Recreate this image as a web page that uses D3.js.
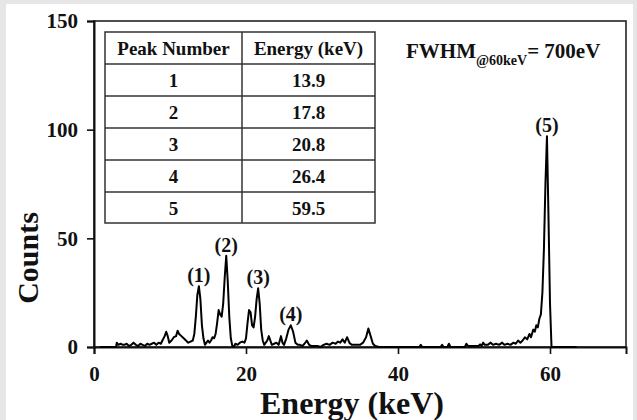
<!DOCTYPE html>
<html>
<head>
<meta charset="utf-8">
<script src="https://cdn.jsdelivr.net/npm/d3@7/dist/d3.min.js"></script>
<style>
  html, body { margin: 0; padding: 0; background: #e6e6e6; }
  svg { display: block; }
  svg text { font-family: "Liberation Serif", "Times New Roman", serif !important; font-weight: bold; fill: #111; }
</style>
</head>
<body>
<svg id="chart" width="637" height="420"></svg>
<script>
// ---- Data ----
const energy = [0.8, 1.5, 2.5, 2.9, 3.0, 3.2, 3.5, 3.8, 4.0, 4.3, 4.6, 4.9, 5.2, 5.5, 5.8, 6.1, 6.4, 6.7, 7.0, 7.3, 7.6, 7.9, 8.2, 8.5, 8.8,
  9.0, 9.3, 9.5, 9.7, 9.9, 10.2, 10.5, 10.8, 11.0, 11.2, 11.5, 11.8, 12.1, 12.4, 12.7, 13.0, 13.2, 13.4, 13.6, 13.8, 14.0, 14.2, 14.4, 14.6, 14.8,
  15.0, 15.2, 15.4, 15.6, 15.8, 16.0, 16.2, 16.4, 16.6, 16.8, 17.0, 17.2, 17.4, 17.6, 17.8, 18.0, 18.2, 18.4, 18.6, 18.9, 19.2, 19.5, 19.8,
  20.0, 20.2, 20.4, 20.6, 20.8, 21.0, 21.2, 21.4, 21.6, 21.8, 22.0, 22.2, 22.4, 22.6, 22.8, 23.0, 23.2, 23.4, 23.7, 24.0, 24.3, 24.6, 24.8,
  25.0, 25.3, 25.6, 25.9, 26.2, 26.5, 26.8, 27.1, 27.4, 27.7, 28.0, 28.3, 28.6, 29.0, 29.4, 29.8, 30.2, 30.6, 31.0, 31.4, 31.8, 32.1, 32.4,
  32.7, 33.0, 33.3, 33.6, 33.9, 34.2, 34.6, 35.0, 35.4, 35.8, 36.1, 36.4, 36.7, 37.0, 37.5, 38.0, 42.8, 43.0, 43.2, 45.6, 45.8, 46.0, 46.5,
  46.7, 46.9, 48.8, 49.0, 49.2, 50.0, 50.6, 50.8, 51.0, 51.2, 51.4, 51.8, 52.2, 52.5, 52.9, 53.3, 53.7, 54.0, 54.4, 54.8, 55.2, 55.5, 55.8,
  56.1, 56.4, 56.7, 57.0, 57.3, 57.5, 57.8, 58.0, 58.2, 58.4, 58.6, 58.8, 59.0, 59.2, 59.4, 59.6, 59.8, 60.0, 60.2, 61.0, 63.5];
const counts = [0, 0, 0, 0, 2, 1, 1.5, 1, 1, 1.5, 0.5, 1, 2, 1, 0.5, 1.5, 1, 0.5, 1.5, 1, 1.5, 2, 1, 2, 1.5,
  3, 5, 7, 5, 2, 3, 4.5, 5, 7.5, 6, 5, 4, 3, 2, 2.5, 3, 6, 14, 24, 28, 22, 10, 4, 1, 2,
  3, 2, 3, 4.5, 4, 6, 11, 17, 15, 14, 20, 32, 42, 30, 14, 4, 0.5, 0, 1.5, 1, 2, 2.5, 2,
  4, 11, 17, 16, 10, 9, 14, 22, 27, 20, 8, 3, 1, 2, 3, 5, 3, 1, 1.5, 2, 1, 5, 2,
  1, 4, 8, 10, 7, 2, 1, 1, 0.5, 1.5, 3, 1, 0.5, 0.5, 0.5, 0, 1, 1.5, 1, 2, 1.5, 2.5, 2,
  3.5, 2, 4.5, 2, 1, 1, 1, 1, 2, 4.5, 8.5, 5, 1.5, 0.5, 0, 0, 0, 1, 0, 0, 1, 0, 0,
  1.5, 0, 0, 1.5, 0.5, 0.5, 0.5, 1.2, 0.5, 2, 1, 1, 2, 1, 1.5, 1, 2, 1, 1.5, 1, 2, 1.5, 3,
  2, 3, 4.5, 3.5, 6, 4.5, 8, 7, 10, 9, 13, 15, 25, 45, 75, 97, 60, 20, 0, 0, 0];

const peakLabels = ["(1)", "(2)", "(3)", "(4)", "(5)"];
const peakEnergy = [13.8, 17.4, 21.6, 25.9, 59.6];
const peakCounts = [28, 42, 27, 10, 97];

const tableHeader = ["Peak Number", "Energy (keV)"];
const tablePeak = ["1", "2", "3", "4", "5"];
const tableEnergy = ["13.9", "17.8", "20.8", "26.4", "59.5"];

const xTicks = [0, 20, 40, 60];
const yTicks = [0, 50, 100, 150];

// ---- Layout ----
const svg = d3.select("#chart");
svg.append("rect").attr("x", 6).attr("y", 4).attr("width", 627).attr("height", 416).attr("fill", "#fff");

const mLeft = 94, mRight = 626, mTop = 21, mBottom = 347;
const x = d3.scaleLinear().domain([0, 70]).range([mLeft, mRight]);
const y = d3.scaleLinear().domain([0, 150]).range([mBottom, mTop]);

// frame
svg.append("rect").attr("x", mLeft).attr("y", mTop).attr("width", mRight - mLeft).attr("height", mBottom - mTop)
  .attr("fill", "none").attr("stroke", "#222").attr("stroke-width", 1.6);

// axes
const xAxis = d3.axisBottom(x).tickValues(xTicks).tickSize(7).tickPadding(12).tickFormat(d3.format("d"));
const yAxis = d3.axisLeft(y).tickValues(yTicks).tickSize(7).tickPadding(9).tickFormat(d3.format("d"));
const gx = svg.append("g").attr("transform", `translate(0,${mBottom})`).call(xAxis);
const gy = svg.append("g").attr("transform", `translate(${mLeft},0)`).call(yAxis);
[gx, gy].forEach(g => {
  g.attr("font-family", null).attr("font-size", null);
  g.select(".domain").attr("stroke", "#111").attr("stroke-width", 2);
  g.selectAll(".tick line").attr("stroke", "#111").attr("stroke-width", 1.6);
  g.selectAll(".tick text").style("font-size", "21px").attr("fill", "#111");
});

// spectrum line
const pts = energy.map((e, i) => [e, counts[i]]);
svg.append("path").datum(pts)
  .attr("d", d3.line().x(d => x(d[0])).y(d => y(d[1])))
  .attr("fill", "none").attr("stroke", "#000").attr("stroke-width", 2).attr("stroke-linejoin", "round");

// peak labels
svg.selectAll(".plabel").data(peakLabels).enter().append("text")
  .attr("class", "plabel")
  .attr("x", (d, i) => x(peakEnergy[i]))
  .attr("y", (d, i) => y(peakCounts[i]) - 4)
  .attr("text-anchor", "middle").style("font-size", "20px").text(d => d);

// axis titles
svg.append("text").attr("x", 352).attr("y", 414).attr("text-anchor", "middle")
  .style("font-size", "32px").text("Energy (keV)");
svg.append("text").attr("transform", "translate(38,258) rotate(-90)").attr("text-anchor", "middle")
  .style("font-size", "30px").text("Counts");

// table
const tx0 = 105, tx1 = 242, tx2 = 375, ty0 = 32, rowH = 32;
const nRows = tablePeak.length + 1;
const tg = svg.append("g");
tg.append("rect").attr("x", tx0).attr("y", ty0).attr("width", tx2 - tx0).attr("height", rowH * nRows - 1)
  .attr("fill", "#fff").attr("stroke", "#333").attr("stroke-width", 1.5);
for (let r = 1; r < nRows; r++) {
  tg.append("line").attr("x1", tx0).attr("x2", tx2).attr("y1", ty0 + r * rowH).attr("y2", ty0 + r * rowH)
    .attr("stroke", "#333").attr("stroke-width", 1.5);
}
tg.append("line").attr("x1", tx1).attr("x2", tx1).attr("y1", ty0).attr("y2", ty0 + rowH * nRows - 1)
  .attr("stroke", "#333").attr("stroke-width", 1.5);
const rows = [tableHeader].concat(tablePeak.map((p, i) => [p, tableEnergy[i]]));
rows.forEach((row, r) => {
  tg.append("text").attr("x", (tx0 + tx1) / 2).attr("y", ty0 + r * rowH + 23).attr("text-anchor", "middle")
    .style("font-size", "19px").text(row[0]);
  tg.append("text").attr("x", (tx1 + tx2) / 2).attr("y", ty0 + r * rowH + 23).attr("text-anchor", "middle")
    .style("font-size", "19px").text(row[1]);
});

// FWHM annotation
const ft = svg.append("text").attr("x", 406).attr("y", 58).style("font-size", "21px");
ft.append("tspan").text("FWHM");
ft.append("tspan").attr("dy", 7).style("font-size", "14px").text("@60keV");
ft.append("tspan").attr("dy", -7).text("= 700eV");
</script>
</body>
</html>
